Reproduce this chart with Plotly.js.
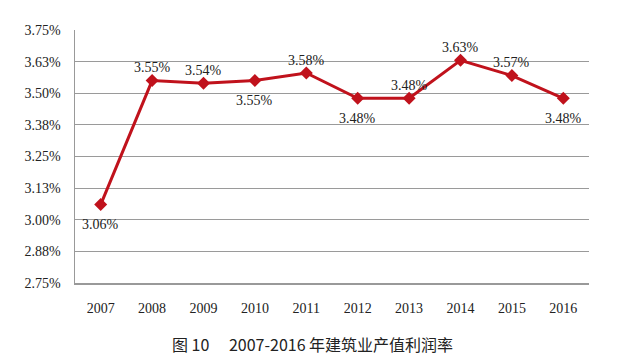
<!DOCTYPE html>
<html>
<head>
<meta charset="utf-8">
<script src="https://cdn.plot.ly/plotly-3.0.1.min.js"></script>
<style>html,body{margin:0;padding:0;background:#fff;}#chart{width:640px;height:360px;}</style>
</head>
<body>
<div id="chart"></div>
<script>
const years = ['2007','2008','2009','2010','2011','2012','2013','2014','2015','2016'];
const rates = [3.06, 3.55, 3.54, 3.55, 3.58, 3.48, 3.48, 3.63, 3.57, 3.48];
const labelAbove = [false, true, true, false, true, false, true, true, true, false];
const yTickVals = [2.75, 2.875, 3.0, 3.125, 3.25, 3.375, 3.5, 3.625, 3.75];
const yTickText = ['2.75%','2.88%','3.00%','3.13%','3.25%','3.38%','3.50%','3.63%','3.75%'];
const caption = '图 10　 2007-2016 年建筑业产值利润率';

const serif = 'Liberation Serif, Times New Roman, serif';
const trace = {
  x: years, y: rates, type: 'scatter', mode: 'lines+markers',
  line: {color: '#C0121C', width: 3},
  marker: {symbol: 'diamond', size: 10, color: '#C0121C'},
  cliponaxis: false, hoverinfo: 'none'
};
const labelAnns = years.map((yr, i) => ({
  x: i, y: rates[i], xref: 'x', yref: 'y',
  text: rates[i].toFixed(2) + '%', showarrow: false,
  xanchor: 'center', yanchor: 'middle',
  yshift: labelAbove[i] ? 13 : -20,
  font: {family: serif, size: 14, color: '#222'}
}));
const layout = {
  width: 640, height: 360,
  margin: {l: 75, r: 51, t: 30, b: 77},
  paper_bgcolor: '#fff', plot_bgcolor: '#fff',
  showlegend: false,
  xaxis: {type: 'category', range: [-0.5, 9.5], showgrid: false, zeroline: false,
    showline: true, linecolor: '#999', linewidth: 1.5,
    ticks: 'outside', ticklen: 12, tickcolor: 'rgba(0,0,0,0)',
    tickfont: {family: serif, size: 14, color: '#222'}},
  yaxis: {range: [2.75, 3.75], tickvals: yTickVals, ticktext: yTickText,
    showgrid: true, gridcolor: '#9a9a9a', gridwidth: 1, zeroline: false,
    showline: true, linecolor: '#999', linewidth: 1.5,
    ticks: 'outside', ticklen: 10, tickcolor: 'rgba(0,0,0,0)',
    tickfont: {family: serif, size: 14, color: '#222'}},
  annotations: labelAnns.concat([{text: caption, xref: 'paper', yref: 'paper', x: 0.462, y: -0.24,
    xanchor: 'center', yanchor: 'middle', showarrow: false,
    font: {family: 'Noto Sans CJK SC, sans-serif', size: 16, color: '#222'}}])
};
Plotly.newPlot('chart', [trace], layout, {staticPlot: true, displayModeBar: false});
</script>
</body>
</html>
